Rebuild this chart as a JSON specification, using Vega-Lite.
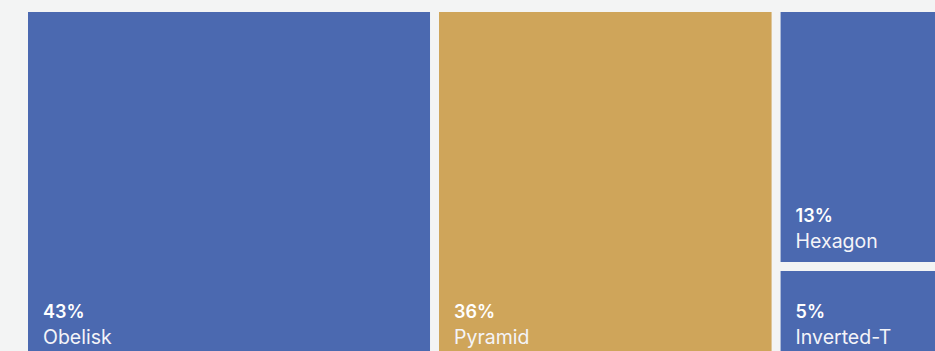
{
  "$schema": "https://vega.github.io/schema/vega-lite/v6.json",
  "width": 907,
  "height": 339,
  "autosize": {"type": "none"},
  "padding": {"left": 28, "top": 12, "right": 0, "bottom": 0},
  "background": "#f3f4f4",
  "config": {"view": {"stroke": null}},
  "data": {
    "values": [
      {"name": "Obelisk", "share": 0.432, "group": "A"},
      {"name": "Pyramid", "share": 0.359, "group": "B"},
      {"name": "Hexagon", "share": 0.133, "group": "C"},
      {"name": "Inverted-T", "share": 0.0493, "group": "C"}
    ]
  },
  "transform": [
    {"stack": "share", "groupby": [], "sort": [{"field": "share", "order": "descending"}], "as": ["sx0", "sx1"]},
    {"joinaggregate": [{"op": "min", "field": "sx0", "as": "x0"}, {"op": "max", "field": "sx1", "as": "x1"}], "groupby": ["group"]},
    {"stack": "share", "groupby": ["group"], "sort": [{"field": "share", "order": "descending"}], "offset": "normalize", "as": ["y0", "y1"]}
  ],
  "encoding": {
    "x": {"field": "x0", "type": "quantitative", "scale": {"domain": [0, 0.9533], "nice": false, "zero": false}, "axis": null},
    "y": {"field": "y0", "type": "quantitative", "scale": {"domain": [0, 0.9549], "nice": false, "zero": false, "reverse": true}, "axis": null}
  },
  "layer": [
    {
      "mark": {"type": "rect", "x2Offset": -9, "y2Offset": -9, "clip": true},
      "encoding": {
        "x2": {"field": "x1"},
        "y2": {"field": "y1"},
        "color": {"field": "name", "type": "nominal", "legend": null,
          "scale": {"domain": ["Obelisk", "Pyramid", "Hexagon", "Inverted-T"], "range": ["#4b69b0", "#cfa55a", "#4b69b0", "#4b69b0"]}}
      }
    },
    {
      "mark": {"type": "text", "align": "left", "baseline": "alphabetic", "dx": 15, "dy": -49, "font": "Inter", "fontSize": 18, "fontWeight": 600, "color": "#ffffff"},
      "encoding": {
        "y": {"field": "y1", "type": "quantitative"},
        "text": {"field": "share", "type": "quantitative", "format": ".0%"}
      }
    },
    {
      "mark": {"type": "text", "align": "left", "baseline": "alphabetic", "dx": 15, "dy": -23, "font": "Inter", "fontSize": 19.5, "fontWeight": 400, "color": "#f4f4f8"},
      "encoding": {
        "y": {"field": "y1", "type": "quantitative"},
        "text": {"field": "name", "type": "nominal"}
      }
    }
  ]
}
